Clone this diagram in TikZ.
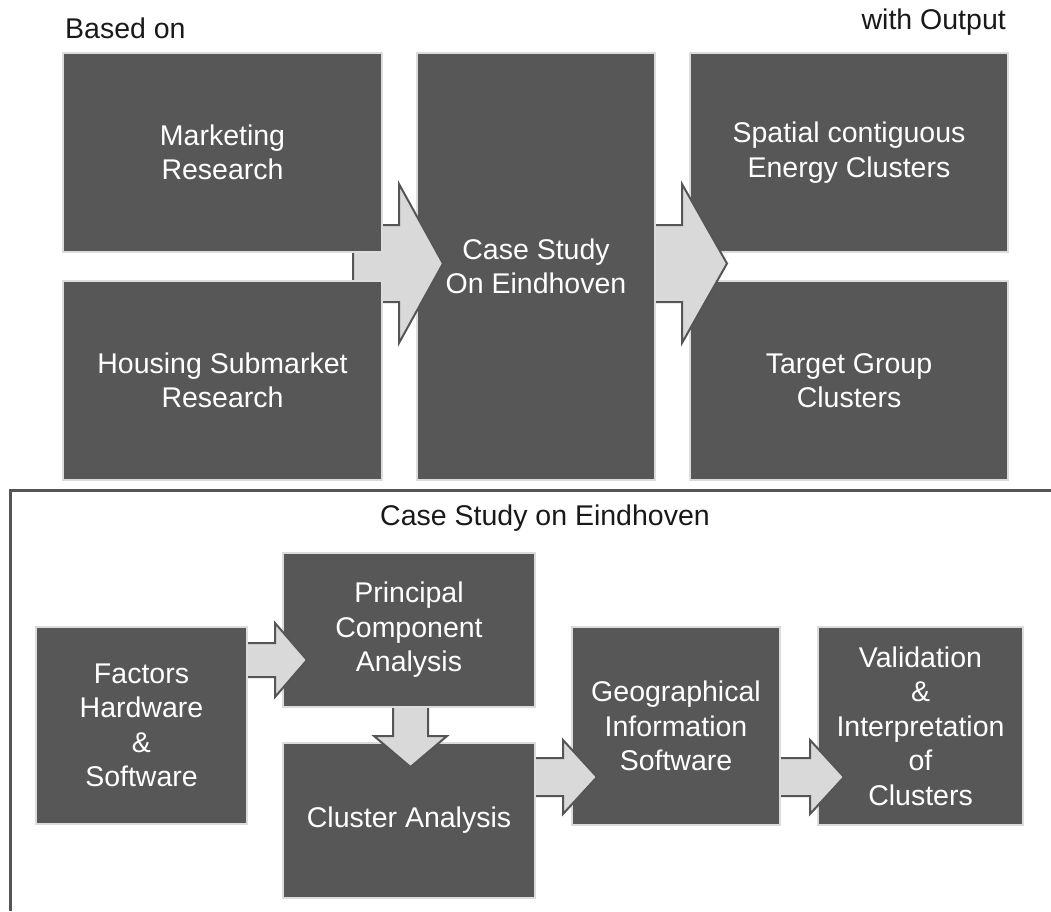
\documentclass[tikz,border=0pt]{standalone}
\usepackage{fontspec}
\setmainfont{Liberation Sans}
\definecolor{boxfill}{HTML}{575757}
\definecolor{boxedge}{HTML}{DCDCDC}
\definecolor{arrowfill}{HTML}{D9D9D9}
\definecolor{lineg}{HTML}{555555}
\tikzset{
  box/.style={rectangle, draw=boxedge, line width=2.5pt, fill=boxfill, text=white,
    align=center, inner sep=0pt, font=\fontsize{28.5}{34.5}\selectfont},
  blockarrow/.style={draw=lineg, line width=2pt, fill=arrowfill, line join=miter},
  frame/.style={draw=lineg, line width=3pt},
  lbl/.style={inner sep=0pt, font=\fontsize{28.5}{34.5}\selectfont, text=black!90}
}
\begin{document}
\begin{tikzpicture}[x=1pt,y=-1pt]
\useasboundingbox (0,0) rectangle (1051,911);
% header labels
\node[lbl, anchor=west] (based) at (65,28) {Based on};
\node[lbl, anchor=east] (without) at (1006,22) {with Output};
% top row, layered
\node[box, minimum width=318pt, minimum height=199pt] (spatial) at (849,152.5) {Spatial contiguous\\Energy Clusters};
\node[box, minimum width=318pt, minimum height=199pt] (target) at (849,380.5) {Target Group\\Clusters};
\draw[blockarrow] (650,225) -- (682,225) -- (682,184) -- (727,263.5) -- (682,343) -- (682,302) -- (650,302) -- cycle;
\node[box, minimum width=238pt, minimum height=427pt] (case) at (536,266.5) {Case Study\\On Eindhoven};
\draw[blockarrow] (353,225) -- (399,225) -- (399,184) -- (443,263.5) -- (399,343) -- (399,302) -- (353,302) -- cycle;
\node[box, minimum width=319pt, minimum height=199pt] (mkt) at (222.5,152.5) {Marketing\\Research};
\node[box, minimum width=319pt, minimum height=199pt] (hous) at (222.5,380.5) {Housing Submarket\\Research};
% frame
\coordinate (fa) at (10,911);
\coordinate (fb) at (10,490);
\coordinate (fc) at (1051,490);
\draw[frame] (fa) -- (fb) -- (fc);
\node[lbl] (cse) at (545,518) {Case Study on Eindhoven};
% bottom row, layered
\node[box, minimum width=205pt, minimum height=198pt] (valid) at (920.5,726) {Validation\\\&\\Interpretation\\of\\Clusters};
\draw[blockarrow] (775,758) -- (810,758) -- (810,740) -- (844,777) -- (810,814) -- (810,796) -- (775,796) -- cycle;
\node[box, minimum width=208pt, minimum height=198pt] (geo) at (676,726) {Geographical\\Information\\Software};
\draw[blockarrow] (530,758) -- (563,758) -- (563,740) -- (597,777) -- (563,814) -- (563,796) -- (530,796) -- cycle;
\node[box, minimum width=252pt, minimum height=155pt] (clus) at (409,820.5) {Cluster Analysis};
\draw[blockarrow] (393,700) -- (393,736) -- (374,736) -- (410.5,767) -- (447,736) -- (428,736) -- (428,700) -- cycle;
\node[box, minimum width=252pt, minimum height=154pt] (pca) at (409,630) {Principal\\Component\\Analysis};
\draw[blockarrow] (240,643) -- (275,643) -- (275,623) -- (307,660) -- (275,697) -- (275,677) -- (240,677) -- cycle;
\node[box, minimum width=211pt, minimum height=197pt] (fact) at (141.5,725.5) {Factors\\Hardware\\\&\\Software};
\end{tikzpicture}
\end{document}
